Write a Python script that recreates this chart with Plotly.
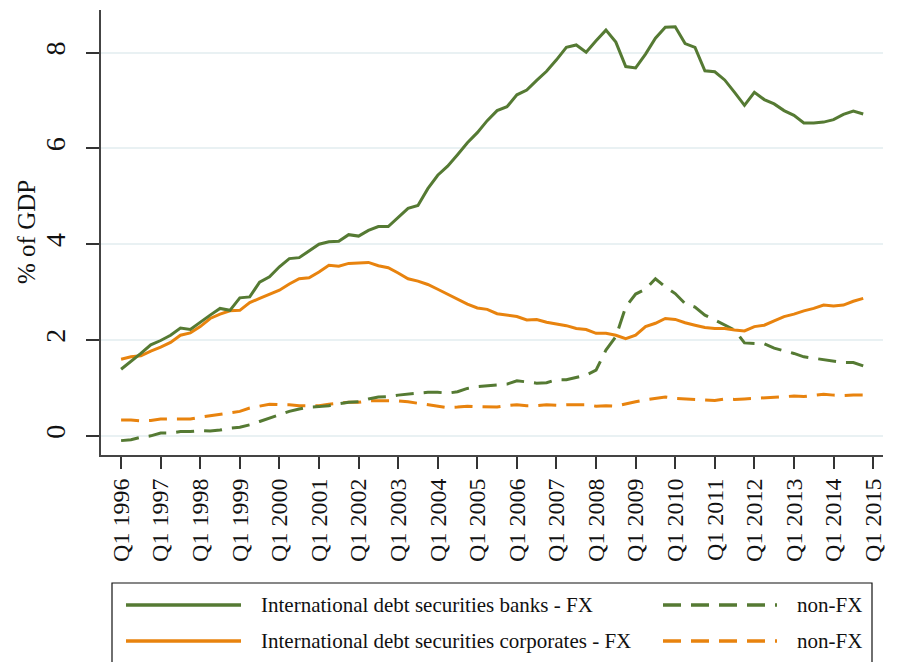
import plotly.graph_objects as go

# ---------------- data ----------------
quarter_index = list(range(76))  # Q1 1996 ... Q4 2014
tick_positions = [0, 4, 8, 12, 16, 20, 24, 28, 32, 36, 40, 44, 48, 52, 56, 60, 64, 68, 72, 76]
tick_labels = ["Q1 1996", "Q1 1997", "Q1 1998", "Q1 1999", "Q1 2000", "Q1 2001", "Q1 2002",
               "Q1 2003", "Q1 2004", "Q1 2005", "Q1 2006", "Q1 2007", "Q1 2008", "Q1 2009",
               "Q1 2010", "Q1 2011", "Q1 2012", "Q1 2013", "Q1 2014", "Q1 2015"]

banks_fx = [1.39, 1.55, 1.72, 1.90, 1.99, 2.10, 2.25, 2.22, 2.38, 2.52,
            2.66, 2.62, 2.88, 2.90, 3.21, 3.32, 3.53, 3.70, 3.72, 3.86,
            4.00, 4.05, 4.06, 4.20, 4.17, 4.29, 4.37, 4.37, 4.55, 4.75,
            4.81, 5.16, 5.44, 5.63, 5.87, 6.12, 6.33, 6.58, 6.79, 6.87,
            7.12, 7.22, 7.42, 7.61, 7.85, 8.11, 8.16, 8.01, 8.25, 8.47,
            8.22, 7.71, 7.68, 7.97, 8.30, 8.53, 8.54, 8.19, 8.11, 7.62,
            7.60, 7.43, 7.17, 6.90, 7.17, 7.02, 6.93, 6.79, 6.69, 6.53,
            6.53, 6.55, 6.60, 6.71, 6.78, 6.72]

banks_nonfx = [-0.10, -0.08, -0.03, 0.00, 0.06, 0.06, 0.09, 0.09, 0.11, 0.10,
               0.12, 0.16, 0.18, 0.23, 0.30, 0.37, 0.44, 0.51, 0.56, 0.60,
               0.61, 0.63, 0.67, 0.70, 0.71, 0.77, 0.81, 0.82, 0.85, 0.87,
               0.89, 0.91, 0.91, 0.89, 0.92, 0.99, 1.03, 1.05, 1.06, 1.08,
               1.15, 1.13, 1.10, 1.11, 1.17, 1.17, 1.22, 1.27, 1.37, 1.79,
               2.07, 2.69, 2.96, 3.06, 3.28, 3.11, 2.97, 2.76, 2.69, 2.52,
               2.42, 2.31, 2.21, 1.94, 1.93, 1.92, 1.83, 1.78, 1.72, 1.65,
               1.62, 1.60, 1.56, 1.53, 1.53, 1.46]

corp_fx = [1.60, 1.65, 1.67, 1.77, 1.85, 1.95, 2.10, 2.15, 2.28, 2.45,
           2.54, 2.61, 2.62, 2.78, 2.87, 2.95, 3.04, 3.17, 3.28, 3.30,
           3.42, 3.56, 3.54, 3.60, 3.61, 3.62, 3.55, 3.51, 3.40, 3.28,
           3.23, 3.16, 3.06, 2.96, 2.85, 2.75, 2.67, 2.64, 2.55, 2.52,
           2.49, 2.42, 2.43, 2.37, 2.33, 2.30, 2.24, 2.22, 2.14, 2.14,
           2.10, 2.03, 2.10, 2.28, 2.35, 2.45, 2.43, 2.36, 2.31, 2.26,
           2.24, 2.24, 2.21, 2.19, 2.28, 2.31, 2.40, 2.49, 2.54, 2.61,
           2.66, 2.73, 2.71, 2.73, 2.81, 2.87]

corp_nonfx = [0.33, 0.33, 0.31, 0.32, 0.35, 0.35, 0.35, 0.35, 0.39, 0.42,
              0.44, 0.47, 0.51, 0.58, 0.62, 0.66, 0.65, 0.65, 0.63, 0.63,
              0.63, 0.66, 0.68, 0.70, 0.70, 0.73, 0.73, 0.73, 0.73, 0.71,
              0.68, 0.65, 0.62, 0.59, 0.60, 0.62, 0.61, 0.60, 0.60, 0.63,
              0.65, 0.63, 0.63, 0.65, 0.64, 0.65, 0.65, 0.65, 0.62, 0.63,
              0.62, 0.67, 0.71, 0.75, 0.78, 0.81, 0.78, 0.77, 0.76, 0.76,
              0.74, 0.77, 0.76, 0.77, 0.78, 0.80, 0.81, 0.82, 0.83, 0.82,
              0.85, 0.87, 0.85, 0.84, 0.85, 0.85]

y_ticks = [0, 2, 4, 6, 8]
y_title = "% of GDP"
series_names = ["International debt securities banks - FX", "non-FX",
                "International debt securities corporates - FX", "non-FX"]

# ---------------- style ----------------
GREEN = "#557a33"
ORANGE = "#e8830e"
FONT = "Liberation Serif, Times New Roman, serif"
DASH = "18px,10px"

OFF = 8  # page body margin offset of the figure inside the browser window
W, H = 910, 662
# desired plot-area edges in window pixels
WL, WR, WT, WB = 101, 883, 10, 455
L, T = WL - OFF, WT - OFF
R, B = W - (WR - OFF), H - (WB - OFF)
PW, PH = W - L - R, H - T - B


def px(x):  # window x -> paper
    return (x - OFF - L) / PW


def py(y):  # window y -> paper
    return (H - B - (y - OFF)) / PH


fig = go.Figure()
fig.add_trace(go.Scatter(x=quarter_index, y=corp_nonfx, mode="lines", name=series_names[3],
                         line=dict(color=ORANGE, width=3, dash=DASH), showlegend=False))
fig.add_trace(go.Scatter(x=quarter_index, y=banks_nonfx, mode="lines", name=series_names[1],
                         line=dict(color=GREEN, width=3, dash=DASH), showlegend=False))
fig.add_trace(go.Scatter(x=quarter_index, y=corp_fx, mode="lines", name=series_names[2],
                         line=dict(color=ORANGE, width=3), showlegend=False))
fig.add_trace(go.Scatter(x=quarter_index, y=banks_fx, mode="lines", name=series_names[0],
                         line=dict(color=GREEN, width=3), showlegend=False))

# ---------------- legend (drawn manually, Stata style) ----------------
shapes = [dict(type="rect", xref="paper", yref="paper",
               x0=px(112), x1=px(872), y0=py(720), y1=py(583),
               line=dict(color="#111111", width=1.2), fillcolor="rgba(0,0,0,0)")]
annotations = []
rows = [(605, GREEN, series_names[0], series_names[1]),
        (641, ORANGE, series_names[2], series_names[3])]
for yy, col, t1, t2 in rows:
    shapes.append(dict(type="line", xref="paper", yref="paper",
                       x0=px(126), x1=px(241), y0=py(yy), y1=py(yy),
                       line=dict(color=col, width=3.5)))
    shapes.append(dict(type="line", xref="paper", yref="paper",
                       x0=px(663), x1=px(777), y0=py(yy), y1=py(yy),
                       line=dict(color=col, width=3.5, dash=DASH)))
    annotations.append(dict(x=px(259), y=py(yy), xref="paper", yref="paper",
                            text=t1, showarrow=False, xanchor="left", yanchor="middle",
                            font=dict(family=FONT, size=21, color="#111111")))
    annotations.append(dict(x=px(795), y=py(yy), xref="paper", yref="paper",
                            text=t2, showarrow=False, xanchor="left", yanchor="middle",
                            font=dict(family=FONT, size=21, color="#111111")))

# y-axis title placed like Stata's
annotations.append(dict(x=px(27), y=py(232), xref="paper", yref="paper", text=y_title,
                        showarrow=False, textangle=-90, xanchor="center", yanchor="middle",
                        font=dict(family=FONT, size=25, color="#111111")))

fig.update_layout(
    width=W, height=H,
    margin=dict(l=L, r=R, t=T, b=B, autoexpand=False),
    paper_bgcolor="white", plot_bgcolor="white",
    showlegend=False,
    shapes=shapes, annotations=annotations,
    font=dict(family=FONT, color="#111111"),
)

fig.update_xaxes(
    range=[-2.03, 77.0], tickmode="array", tickvals=tick_positions, ticktext=tick_labels,
    tickangle=-90, ticks="outside", ticklen=12, tickwidth=1.5, tickcolor="#333333",
    showline=True, linecolor="#444444", linewidth=2, showgrid=False, zeroline=False,
    tickfont=dict(family=FONT, size=24, color="#111111"), automargin=False,
)
fig.update_yaxes(
    range=[-0.4, 8.89], tickmode="array", tickvals=y_ticks, ticktext=[str(v) for v in y_ticks],
    tickangle=-90, ticks="outside", ticklen=13, tickwidth=1.5, tickcolor="#333333",
    showline=True, linecolor="#444444", linewidth=2, showgrid=True, gridcolor="#e9f1f3",
    gridwidth=2, zeroline=False,
    tickfont=dict(family=FONT, size=28, color="#111111"), ticklabelstandoff=10,
    automargin=False,
)

fig.write_html("out.html")
